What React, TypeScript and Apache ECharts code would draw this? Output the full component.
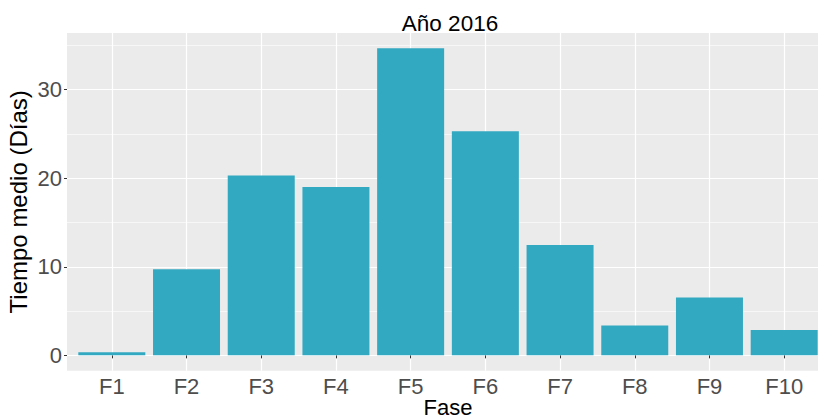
import React, { useEffect, useRef } from "react";
import * as echarts from "echarts";

const categories = ["F1", "F2", "F3", "F4", "F5", "F6", "F7", "F8", "F9", "F10"];
const values = [0.35, 9.72, 20.3, 19.0, 34.66, 25.3, 12.46, 3.36, 6.52, 2.87];
const yMajorTicks = [0, 10, 20, 30];
const yMinorTicks = [5, 15, 25, 35];
const titleText = "Año 2016";
const xTitle = "Fase";
const yTitle = "Tiempo medio (Días)";

export default function App() {
  const ref = useRef<HTMLDivElement>(null);
  useEffect(() => {
    document.body.style.margin = "0";
    const chart = echarts.init(ref.current!, null, { renderer: "svg" });
    const font = "Liberation Sans, Arial, sans-serif";
    const maxV = Math.max(...values);
    const pad = maxV * 0.05;
    const xPositions = categories.map((_, i) => i + 1);
    chart.setOption({
      animation: false,
      title: {
        text: titleText,
        left: 445,
        textAlign: "center",
        top: 7,
        textStyle: { fontFamily: font, fontSize: 22.5, fontWeight: "normal", color: "#000" },
      },
      grid: {
        left: 67,
        top: 33,
        width: 762,
        height: 337.7,
        show: true,
        backgroundColor: "#EBEBEB",
        borderWidth: 0,
        containLabel: false,
        outerBoundsMode: "none",
      },
      xAxis: {
        type: "value",
        min: 0.4,
        max: categories.length + 0.6,
        name: xTitle,
        nameLocation: "middle",
        nameGap: 26,
        nameMoveOverlap: false,
        nameTextStyle: { fontFamily: font, fontSize: 22, color: "#000" },
        axisLine: { show: false },
        axisTick: { show: true, length: 3, customValues: xPositions, lineStyle: { color: "#333", width: 1 } },
        axisLabel: {
          customValues: xPositions,
          formatter: (v: number) => categories[Math.round(v) - 1] ?? "",
          fontFamily: font,
          fontSize: 22,
          color: "#4D4D4D",
          margin: 5,
        },
        splitLine: { show: true, lineStyle: { color: "#FFFFFF", width: 1.2 } },
      },
      yAxis: [
        {
          type: "value",
          min: -pad,
          max: maxV + pad,
          name: yTitle,
          nameLocation: "middle",
          nameGap: 37,
          nameMoveOverlap: false,
          nameTextStyle: { fontFamily: font, fontSize: 24, color: "#000" },
          axisLine: { show: false },
          axisTick: { show: true, length: 3, customValues: yMajorTicks, lineStyle: { color: "#333", width: 1 } },
          axisLabel: {
            customValues: yMajorTicks,
            fontFamily: font,
            fontSize: 22,
            color: "#4D4D4D",
            margin: 5,
          },
          splitLine: { show: true, lineStyle: { color: "#FFFFFF", width: 1.2 } },
        },
        {
          type: "value",
          min: -pad,
          max: maxV + pad,
          position: "left",
          axisLine: { show: false },
          axisTick: { show: false, customValues: yMinorTicks },
          axisLabel: { show: false, customValues: yMinorTicks },
          splitLine: { show: true, lineStyle: { color: "#FFFFFF", width: 0.6 } },
        },
      ],
      series: [
        {
          type: "bar",
          data: values.map((v, i) => [xPositions[i], v]),
          barWidth: 67,
          itemStyle: { color: "#33A9C1" },
          z: 3,
        },
      ],
    });
    return () => chart.dispose();
  }, []);
  return <div ref={ref} style={{ width: 818, height: 419 }} />;
}
